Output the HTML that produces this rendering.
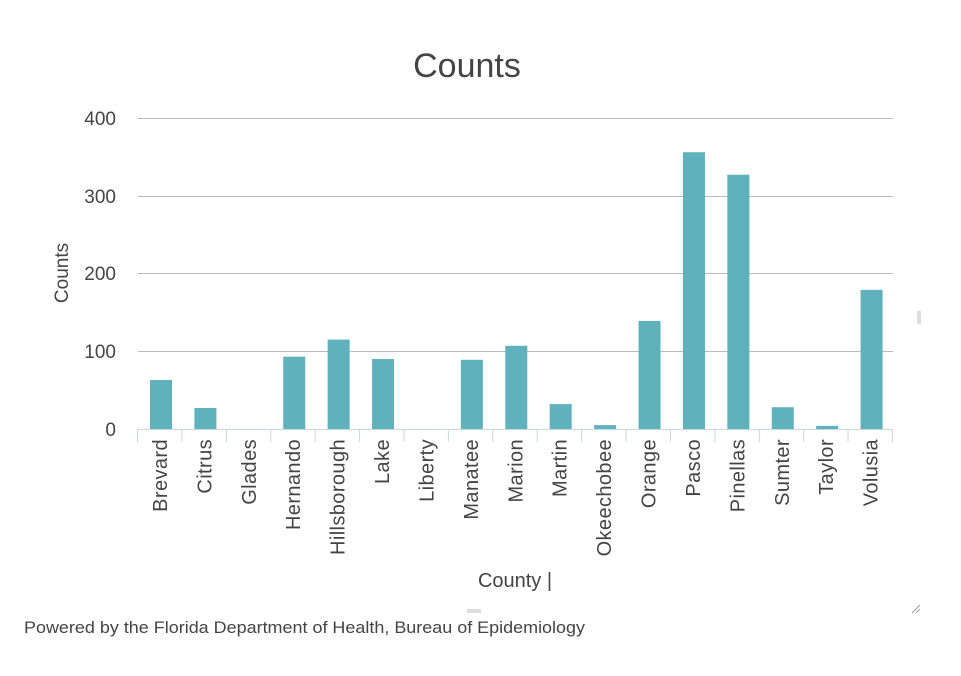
<!DOCTYPE html><html><head><style>body{margin:0;background:#fff}svg{display:block}text{font-family:"Liberation Sans",sans-serif;fill:#444}</style></head><body>
<svg width="961" height="676" xmlns="http://www.w3.org/2000/svg">
<text x="467" y="77" font-size="34" text-anchor="middle" fill="#333">Counts</text>
<g stroke="#bbb" stroke-width="1">
<line x1="138" y1="118.5" x2="893" y2="118.5"/><line x1="138" y1="196.5" x2="893" y2="196.5"/><line x1="138" y1="273.5" x2="893" y2="273.5"/><line x1="138" y1="351.5" x2="893" y2="351.5"/></g>
<g font-size="19" text-anchor="end"><text x="116" y="125">400</text><text x="116" y="203">300</text><text x="116" y="280">200</text><text x="116" y="358">100</text><text x="116" y="436">0</text></g>
<text transform="translate(68,273) rotate(-90)" font-size="19" text-anchor="middle">Counts</text>
<g fill="#5fb1bc" id="bars"></g>
<line x1="137" y1="429.5" x2="893" y2="429.5" stroke="#c8d8e0"/>
<g id="ticks" stroke="#c8d8e0"></g>
<g id="labels" font-size="20"></g>
<text x="515" y="587" font-size="20" text-anchor="middle">County |</text>
<text x="24" y="633" font-size="17" fill="#333" textLength="561" lengthAdjust="spacingAndGlyphs">Powered by the Florida Department of Health, Bureau of Epidemiology</text>
<g stroke="#999"><line x1="912" y1="613" x2="920" y2="605"/><line x1="916" y1="613" x2="920" y2="609"/></g>
<rect x="917" y="311" width="4" height="13" fill="#ddd"/><rect x="467" y="609" width="14" height="4" fill="#ddd"/>
</svg>
<script>
var n=["Brevard","Citrus","Glades","Hernando","Hillsborough","Lake","Liberty","Manatee","Marion","Martin","Okeechobee","Orange","Pasco","Pinellas","Sumter","Taylor","Volusia"];
var v=[63,27,0,93,115,90,0,89,107,32,5,139,356,327,28,4,179];
var s=755/17,b=document.getElementById("bars"),t=document.getElementById("ticks"),l=document.getElementById("labels"),NS="http://www.w3.org/2000/svg";
for(var i=0;i<17;i++){var x0=138+i*s;
var r=document.createElementNS(NS,"rect");var h=v[i]*0.7775;r.setAttribute("x",x0+12);r.setAttribute("y",429-h);r.setAttribute("width",22);r.setAttribute("height",h);b.appendChild(r);
var k=document.createElementNS(NS,"line");k.setAttribute("x1",x0-0.5);k.setAttribute("x2",x0-0.5);k.setAttribute("y1",429);k.setAttribute("y2",442);t.appendChild(k);
var tx=document.createElementNS(NS,"text");tx.setAttribute("transform","translate("+(x0+29)+",439) rotate(-90)");tx.setAttribute("text-anchor","end");tx.setAttribute("letter-spacing","0.4");tx.textContent=n[i];l.appendChild(tx);}
var k=document.createElementNS(NS,"line");k.setAttribute("x1",892.5);k.setAttribute("x2",892.5);k.setAttribute("y1",429);k.setAttribute("y2",442);t.appendChild(k);
</script></body></html>
